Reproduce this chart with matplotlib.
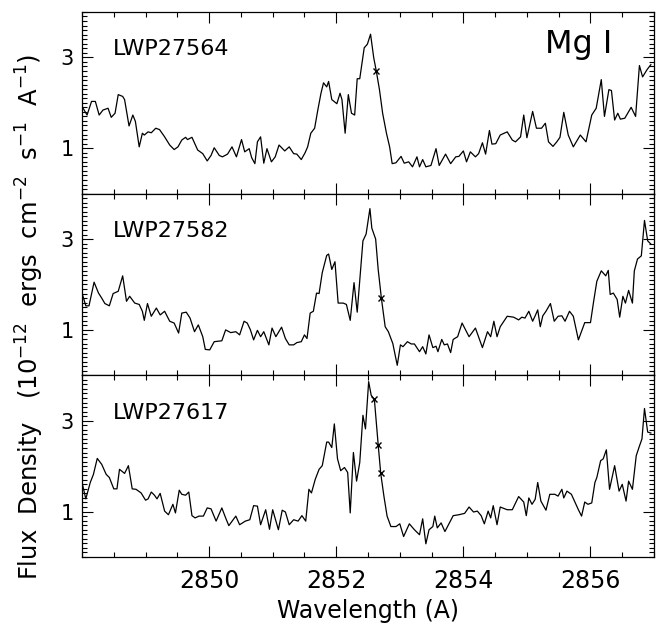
import matplotlib.pyplot as plt
from matplotlib.ticker import MultipleLocator, FixedLocator

# spectra (wavelength in A, flux in 1e-12 erg/cm2/s/A)
wl1 = [2848.00, 2848.08, 2848.15, 2848.21, 2848.27, 2848.33, 2848.41, 2848.46, 2848.52, 2848.57,
       2848.64, 2848.67, 2848.74, 2848.80, 2848.84, 2848.90, 2848.95, 2848.98, 2849.04, 2849.09,
       2849.16, 2849.22, 2849.30, 2849.38, 2849.45, 2849.51, 2849.57, 2849.63, 2849.66, 2849.73,
       2849.82, 2849.90, 2849.97, 2850.03, 2850.08, 2850.16, 2850.21, 2850.29, 2850.36, 2850.43,
       2850.51, 2850.56, 2850.63, 2850.67, 2850.72, 2850.76, 2850.81, 2850.86, 2850.91, 2850.98,
       2851.04, 2851.10, 2851.19, 2851.26, 2851.33, 2851.38, 2851.45, 2851.51, 2851.55, 2851.60,
       2851.66, 2851.71, 2851.76, 2851.80, 2851.85, 2851.88, 2851.93, 2852.01, 2852.06, 2852.09,
       2852.14, 2852.19, 2852.24, 2852.29, 2852.33, 2852.37, 2852.44, 2852.49, 2852.54, 2852.59,
       2852.63, 2852.68, 2852.73, 2852.79, 2852.84, 2852.88, 2852.94, 2853.02, 2853.07, 2853.14,
       2853.20, 2853.27, 2853.31, 2853.36, 2853.41, 2853.49, 2853.57, 2853.62, 2853.72, 2853.80,
       2853.88, 2853.93, 2854.00, 2854.05, 2854.11, 2854.19, 2854.24, 2854.30, 2854.35, 2854.41,
       2854.45, 2854.51, 2854.58, 2854.69, 2854.77, 2854.82, 2854.90, 2854.95, 2855.00, 2855.09,
       2855.15, 2855.23, 2855.29, 2855.34, 2855.41, 2855.47, 2855.52, 2855.58, 2855.65, 2855.73,
       2855.84, 2855.93, 2856.02, 2856.09, 2856.17, 2856.22, 2856.29, 2856.33, 2856.38, 2856.43,
       2856.47, 2856.54, 2856.64, 2856.71, 2856.77, 2856.82, 2856.89, 2856.95]
fx1 = [1.92, 1.73, 2.03, 2.03, 1.73, 1.84, 1.88, 1.68, 1.77, 2.18,
       2.14, 2.07, 1.49, 1.73, 1.59, 1.03, 1.33, 1.29, 1.36, 1.34,
       1.44, 1.41, 1.25, 1.07, 0.97, 1.03, 1.18, 1.24, 1.19, 1.24,
       0.96, 0.88, 0.72, 0.84, 1.01, 0.84, 0.81, 0.87, 1.03, 0.81,
       1.19, 0.92, 0.99, 0.79, 0.66, 1.14, 1.25, 0.67, 0.99, 0.70,
       0.81, 1.07, 0.94, 1.03, 0.88, 0.87, 0.75, 0.90, 1.03, 1.33,
       1.44, 1.84, 2.21, 2.44, 2.35, 2.47, 2.07, 1.98, 2.21, 2.07,
       1.33, 2.18, 1.77, 1.73, 2.53, 2.53, 3.21, 3.29, 3.51, 2.99,
       2.70, 2.29, 1.77, 1.33, 1.03, 0.66, 0.68, 0.82, 0.67, 0.70,
       0.59, 0.81, 0.59, 0.75, 0.59, 0.62, 0.99, 0.62, 0.87, 0.66,
       0.81, 0.82, 0.94, 0.70, 0.92, 0.81, 0.88, 1.12, 0.87, 1.39,
       1.09, 1.10, 1.29, 1.36, 1.18, 1.14, 1.25, 1.73, 1.23, 1.81,
       1.44, 1.44, 1.55, 1.14, 1.04, 1.14, 1.24, 1.79, 1.29, 1.03,
       1.29, 1.14, 1.73, 1.88, 2.51, 1.70, 2.29, 2.27, 1.62, 1.77,
       1.64, 1.66, 1.90, 1.70, 2.82, 2.57, 2.73, 2.84]

wl2 = [2848.00, 2848.06, 2848.11, 2848.19, 2848.26, 2848.31, 2848.36, 2848.43, 2848.49, 2848.57,
       2848.64, 2848.70, 2848.75, 2848.83, 2848.90, 2848.95, 2848.98, 2849.03, 2849.09, 2849.17,
       2849.23, 2849.30, 2849.38, 2849.45, 2849.52, 2849.57, 2849.64, 2849.70, 2849.77, 2849.83,
       2849.90, 2849.94, 2850.01, 2850.08, 2850.20, 2850.26, 2850.34, 2850.42, 2850.48, 2850.55,
       2850.60, 2850.65, 2850.70, 2850.76, 2850.81, 2850.86, 2850.94, 2850.99, 2851.05, 2851.14,
       2851.20, 2851.26, 2851.33, 2851.38, 2851.45, 2851.50, 2851.54, 2851.59, 2851.64, 2851.69,
       2851.73, 2851.78, 2851.85, 2851.88, 2851.93, 2851.98, 2852.03, 2852.11, 2852.16, 2852.22,
       2852.28, 2852.33, 2852.42, 2852.47, 2852.53, 2852.56, 2852.62, 2852.66, 2852.71, 2852.77,
       2852.82, 2852.89, 2852.96, 2853.01, 2853.05, 2853.12, 2853.18, 2853.23, 2853.31, 2853.36,
       2853.41, 2853.46, 2853.52, 2853.57, 2853.60, 2853.66, 2853.70, 2853.75, 2853.80, 2853.84,
       2853.91, 2853.98, 2854.09, 2854.19, 2854.30, 2854.38, 2854.43, 2854.48, 2854.53, 2854.58,
       2854.69, 2854.79, 2854.87, 2854.92, 2854.97, 2855.03, 2855.09, 2855.13, 2855.17, 2855.21,
       2855.25, 2855.30, 2855.37, 2855.43, 2855.49, 2855.55, 2855.60, 2855.67, 2855.73, 2855.81,
       2855.91, 2856.00, 2856.05, 2856.10, 2856.17, 2856.24, 2856.28, 2856.31, 2856.36, 2856.42,
       2856.46, 2856.51, 2856.55, 2856.60, 2856.66, 2856.69, 2856.74, 2856.80, 2856.85, 2856.90,
       2856.95]
fx2 = [1.81, 1.53, 1.53, 2.05, 1.81, 1.70, 1.58, 1.53, 1.80, 1.85,
       2.19, 1.63, 1.74, 1.59, 1.56, 1.41, 1.21, 1.58, 1.30, 1.48,
       1.33, 1.41, 1.19, 1.15, 0.93, 1.37, 1.39, 1.26, 0.96, 1.11,
       0.85, 0.57, 0.56, 0.74, 0.76, 1.00, 0.94, 0.96, 0.89, 1.19,
       1.15, 1.00, 0.78, 0.99, 0.85, 0.96, 0.67, 1.04, 0.85, 1.06,
       0.81, 0.67, 0.67, 0.72, 0.74, 0.89, 0.81, 1.37, 1.41, 1.81,
       1.80, 2.26, 2.64, 2.67, 2.33, 2.50, 1.59, 1.59, 1.56, 1.21,
       2.04, 1.39, 2.96, 3.11, 3.67, 3.24, 3.00, 2.33, 1.70, 1.07,
       0.96, 0.70, 0.22, 0.67, 0.63, 0.74, 0.69, 0.69, 0.52, 0.63,
       0.47, 0.89, 0.61, 0.64, 0.52, 0.79, 0.67, 0.69, 0.50, 0.79,
       0.85, 1.15, 0.85, 1.04, 0.61, 0.96, 0.85, 1.19, 0.85, 1.07,
       1.30, 1.28, 1.22, 1.28, 1.26, 1.41, 1.19, 1.31, 1.44, 1.07,
       1.31, 1.41, 1.58, 1.19, 1.30, 1.31, 1.19, 1.41, 1.30, 0.78,
       1.16, 1.16, 1.63, 2.07, 2.30, 2.19, 2.31, 1.78, 1.81, 1.67,
       1.28, 1.74, 1.59, 1.87, 1.59, 2.30, 2.56, 2.63, 3.41, 2.96,
       2.89]

wl3 = [2848.00, 2848.06, 2848.13, 2848.18, 2848.24, 2848.31, 2848.38, 2848.43, 2848.50, 2848.55,
       2848.59, 2848.67, 2848.73, 2848.79, 2848.85, 2848.93, 2849.00, 2849.04, 2849.09, 2849.14,
       2849.18, 2849.23, 2849.30, 2849.36, 2849.43, 2849.47, 2849.53, 2849.57, 2849.63, 2849.68,
       2849.73, 2849.78, 2849.84, 2849.91, 2849.97, 2850.03, 2850.11, 2850.20, 2850.26, 2850.31,
       2850.42, 2850.48, 2850.57, 2850.64, 2850.70, 2850.76, 2850.81, 2850.89, 2850.95, 2851.00,
       2851.09, 2851.15, 2851.20, 2851.26, 2851.33, 2851.40, 2851.46, 2851.52, 2851.57, 2851.61,
       2851.67, 2851.73, 2851.78, 2851.85, 2851.88, 2851.93, 2851.97, 2852.02, 2852.07, 2852.13,
       2852.18, 2852.22, 2852.27, 2852.32, 2852.37, 2852.42, 2852.46, 2852.51, 2852.55, 2852.60,
       2852.66, 2852.70, 2852.75, 2852.80, 2852.86, 2852.94, 2853.00, 2853.06, 2853.15, 2853.23,
       2853.31, 2853.36, 2853.41, 2853.46, 2853.52, 2853.55, 2853.59, 2853.65, 2853.71, 2853.78,
       2853.84, 2853.93, 2854.02, 2854.09, 2854.16, 2854.22, 2854.28, 2854.33, 2854.39, 2854.43,
       2854.47, 2854.53, 2854.58, 2854.69, 2854.77, 2854.87, 2854.95, 2854.99, 2855.03, 2855.08,
       2855.13, 2855.17, 2855.22, 2855.30, 2855.36, 2855.44, 2855.49, 2855.55, 2855.58, 2855.63,
       2855.70, 2855.81, 2855.86, 2855.91, 2855.96, 2856.02, 2856.07, 2856.10, 2856.16, 2856.20,
       2856.25, 2856.30, 2856.38, 2856.45, 2856.50, 2856.56, 2856.60, 2856.66, 2856.72, 2856.77,
       2856.81, 2856.85, 2856.90, 2856.95]
fx3 = [1.64, 1.28, 1.64, 1.82, 2.17, 2.04, 1.82, 1.75, 1.50, 1.50,
       1.93, 1.84, 2.01, 1.50, 1.49, 1.41, 1.25, 1.28, 1.43, 1.36,
       1.28, 1.40, 1.01, 0.93, 1.16, 0.97, 1.47, 1.38, 1.36, 1.43,
       0.91, 0.86, 0.90, 0.90, 1.08, 1.06, 0.79, 1.08, 0.86, 0.69,
       0.90, 0.71, 0.79, 0.82, 1.13, 1.12, 0.71, 1.04, 0.61, 1.04,
       0.60, 1.03, 0.99, 0.71, 0.82, 0.79, 0.91, 0.79, 1.49, 1.41,
       1.71, 1.93, 2.01, 2.53, 2.53, 2.41, 2.93, 2.16, 1.90, 1.97,
       1.86, 0.97, 2.30, 1.67, 2.08, 3.12, 2.82, 3.86, 3.56, 3.47,
       2.47, 1.84, 1.34, 0.90, 0.67, 0.67, 0.73, 0.45, 0.73, 0.60,
       0.49, 0.84, 0.29, 0.60, 0.67, 0.90, 0.64, 0.75, 0.56, 0.75,
       0.91, 0.93, 0.96, 1.10, 0.99, 1.01, 0.91, 0.73, 1.01, 0.86,
       1.13, 0.71, 1.10, 1.04, 1.04, 1.33, 1.21, 0.91, 1.30, 1.16,
       1.27, 1.64, 1.23, 1.03, 1.38, 1.38, 1.34, 1.49, 1.30, 1.45,
       1.38, 1.04, 0.90, 1.21, 1.16, 1.19, 1.64, 1.75, 2.12, 2.16,
       2.36, 1.49, 2.01, 1.45, 1.60, 1.23, 1.67, 1.49, 2.23, 2.44,
       2.60, 3.27, 2.75, 2.73]

# x marks on the line wing
mark_wl = [[2852.63], [2852.71], [2852.60, 2852.66, 2852.70]]
mark_fx = [[2.70], [1.70], [3.47, 2.47, 1.84]]

labels = ["LWP27564", "LWP27582", "LWP27617"]
xticks = [2850, 2852, 2854, 2856]
spectra = [(wl1, fx1), (wl2, fx2), (wl3, fx3)]

fig, axes = plt.subplots(3, 1, sharex=True, figsize=(6.56, 6.29), dpi=100)
fig.subplots_adjust(left=0.125, right=0.997, top=0.981, bottom=0.1145, hspace=0)

for i, ax in enumerate(axes):
    wl, fx = spectra[i]
    ax.plot(wl, fx, color="black", lw=0.9)
    ax.plot(mark_wl[i], mark_fx[i], "x", color="black", ms=5, mew=1.0)
    ax.set_xlim(2848.0, 2857.0)
    ax.set_ylim(0, 4)
    ax.yaxis.set_major_locator(FixedLocator([1, 3]))
    ax.yaxis.set_minor_locator(MultipleLocator(0.1))
    ax.xaxis.set_major_locator(FixedLocator(xticks))
    ax.xaxis.set_minor_locator(MultipleLocator(0.5))
    ax.tick_params(which="both", direction="in", top=True, right=True, width=0.8)
    ax.tick_params(which="major", length=8)
    ax.tick_params(which="minor", length=3.5)
    ax.tick_params(axis="y", labelsize=15, pad=6)
    ax.tick_params(axis="x", labelsize=17, pad=9)
    for s in ax.spines.values():
        s.set_linewidth(0.9)
    ax.text(0.054, 0.795, labels[i], transform=ax.transAxes, fontsize=16,
            ha="left", va="center")

axes[0].text(0.81, 0.82, "Mg I", transform=axes[0].transAxes, fontsize=23,
             ha="left", va="center")

axes[2].set_xlabel("Wavelength (A)", fontsize=17, labelpad=4)
fig.text(0.045, 0.497,
         r"Flux  Density   (10$^{-12}$  ergs  cm$^{-2}$  s$^{-1}$  A$^{-1}$)",
         rotation=90, fontsize=17.5, ha="center", va="center")

fig.savefig("out.png", dpi=100)
